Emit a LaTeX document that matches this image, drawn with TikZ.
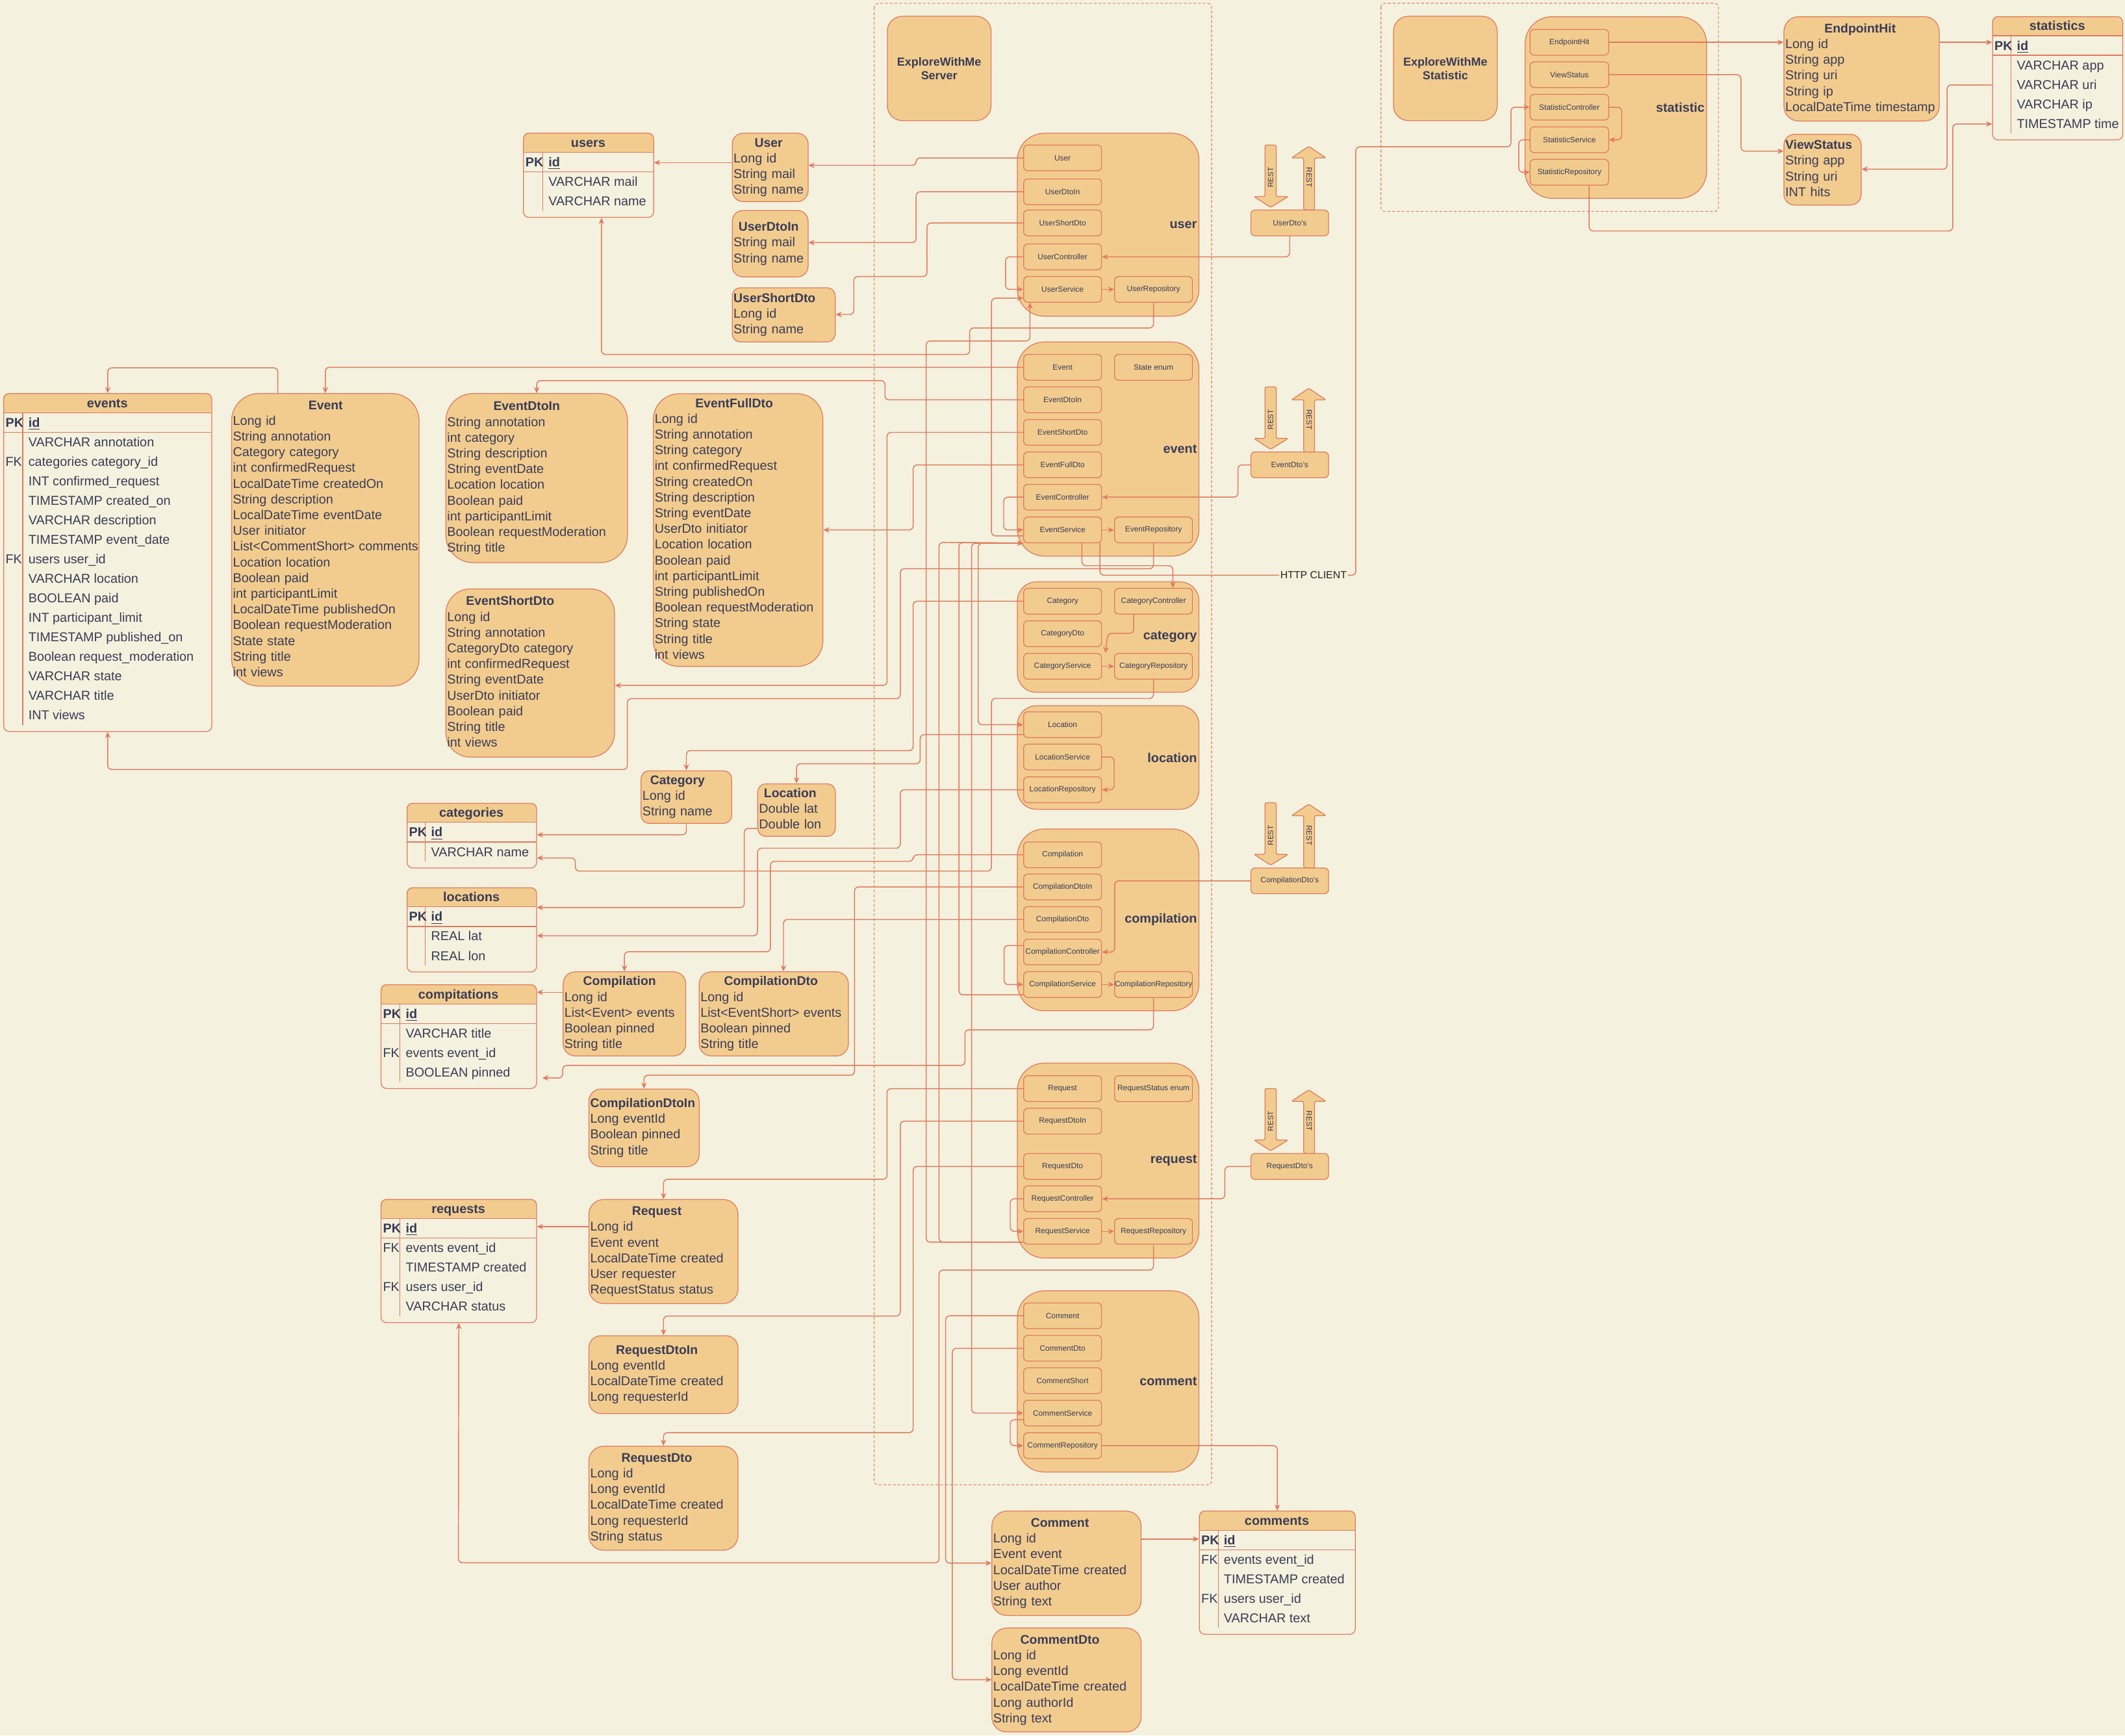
\documentclass[tikz,border=0pt]{standalone}
\usepackage{fontspec}
\setmainfont{Liberation Sans}
\usetikzlibrary{arrows.meta}

\definecolor{bgc}{HTML}{F4F1DE}
\definecolor{fillc}{HTML}{F2CC8F}
\definecolor{edgec}{HTML}{E07A5F}
\definecolor{txtc}{HTML}{393C56}

\newcommand{\fbody}{\fontsize{9.5}{11.6}\selectfont}
\newcommand{\fhead}{\fontsize{9.3}{11.6}\selectfont\bfseries}
\newcommand{\fcell}{\fontsize{9.5}{11}\selectfont}
\newcommand{\fsmall}{\fontsize{5.7}{6.8}\selectfont}
\newcommand{\fblock}{\fontsize{9.5}{11}\selectfont\bfseries}
\newcommand{\frest}{\fontsize{5.6}{6.6}\selectfont}
\newcommand{\fapp}{\fontsize{8.6}{10.3}\selectfont\bfseries}
% title centred over the widest field line
\newcommand{\ent}[2]{\begin{tabular}{@{}l@{}}\multicolumn{1}{@{}c@{}}{\fhead #1}\\#2\end{tabular}}

\tikzstyle{entity} = [rectangle, draw=edgec, fill=fillc, line width=0.6pt, anchor=north west,
    align=left, inner xsep=1pt, inner ysep=2pt, font=\fbody, text=txtc]
\tikzstyle{cls} = [rectangle, draw=edgec, fill=fillc, line width=0.6pt, rounded corners=3pt,
    minimum width=57.5pt, minimum height=19pt, inner sep=0pt, font=\fsmall, text=txtc]
\tikzstyle{dto} = [cls, minimum width=57.3pt]
\tikzstyle{module} = [rectangle, draw=edgec, fill=fillc, line width=0.6pt, rounded corners=20pt,
    anchor=north west, minimum width=134pt, text width=131pt, inner xsep=1.5pt, align=right,
    font=\fblock, text=txtc]
\tikzstyle{app} = [rectangle, draw=edgec, fill=fillc, line width=0.6pt, rounded corners=11pt,
    minimum width=76.5pt, minimum height=77pt, align=center, font=\fapp, text=txtc]
\tikzstyle{dbframe} = [rectangle, draw=edgec, line width=0.6pt, rounded corners=4pt,
    inner sep=0pt, anchor=north west]
\tikzstyle{dbtitle} = [anchor=base, inner sep=0pt, font=\fcell\bfseries, text=txtc]
\tikzstyle{dbcell} = [anchor=base west, inner sep=0.5pt, font=\fcell, text=txtc]
\tikzstyle{dbline} = [draw=edgec, line width=0.6pt]
\tikzstyle{zone} = [draw=edgec, line width=0.5pt, dash pattern=on 2pt off 1.5pt, rounded corners=3pt]
\tikzstyle{arrowshape} = [draw=edgec, fill=fillc, line width=0.6pt, rounded corners=1.2pt]
\tikzstyle{rest} = [inner sep=0pt, font=\frest, text=txtc]
\tikzstyle{con} = [draw=edgec, line width=0.7pt, rounded corners=3pt, -{Stealth[length=4.5pt,width=4pt]}]

% table: name, x1, y1, x2, divider, rows, title
\newcommand{\dbtable}[7]{%
  \fill[fillc, rounded corners=4pt] (#2,#3) rectangle (#4,#3+14.4);
  \fill[fillc] (#2,#3+7) rectangle (#4,#3+14.4);
  \node[dbframe, minimum width=#4-#2, minimum height=33.3+14.4*#6] (#1) at (#2,#3) {};
  \node[dbtitle] (#1-title) at ({(#2+#4)/2},#3+10.5) {#7};
  \draw[dbline] (#2,#3+14.4) -- (#4,#3+14.4) (#2,#3+28.8) -- (#4,#3+28.8)
    (#5,#3+14.4) -- (#5,#3+28.8+14.4*#6);
  \node[dbcell] (#1-pk) at (#2+1,#3+25) {\bfseries PK};
  \node[dbcell] (#1-id) at (#5+3.5,#3+25) {\bfseries\underline{id}};
}
% table rows: name, x1, y1, divider, key/text list
\newcommand{\dbrows}[5]{%
  \foreach \k/\t [count=\i] in {#5} {
    \node[dbcell] (#1-k\i) at (#2+1,#3+25+14.4*\i) {\k};
    \node[dbcell] (#1-r\i) at (#4+3.5,#3+25+14.4*\i) {\t};
  }
}
% REST arrows above a dto box: name, top of the box
\newcommand{\restpair}[2]{%
  \filldraw[arrowshape] (933.4,#2-48) -- (941.7,#2-48) -- (941.7,#2-10) -- (950.5,#2-10)
    -- (937.55,#2-2) -- (925.3,#2-10) -- (933.4,#2-10) -- cycle;
  \filldraw[arrowshape] (962,#2) -- (962,#2-38.5) -- (953,#2-38.5) -- (965.7,#2-47)
    -- (978.4,#2-38.5) -- (970,#2-38.5) -- (970,#2) -- cycle;
  \node[rest, rotate=90] (#1-in) at (937.55,#2-24) {REST};
  \node[rest, rotate=-90] (#1-out) at (966,#2-24) {REST};
}

\begin{document}
\begin{tikzpicture}[x=1pt, y=-1pt]
    \fill[bgc] (0,0) rectangle (1568,1280.4);
    \useasboundingbox (0,0) rectangle (1568,1280.4);
    \draw[zone] (645,2.5) rectangle (894,1095.5);
    \draw[zone] (1019,2.4) rectangle (1268,156);
    % Place nodes
    \node[app] (server) at (693,50.5) {ExploreWithMe\\Server};
    \node[app] (stats) at (1066.5,50.5) {ExploreWithMe\\Statistic};

    \node[module, minimum height=135pt] (buser) at (750.4,98) {user};
    \node[module, minimum height=158pt] (bevent) at (750.4,252) {event};
    \node[module, minimum height=81.5pt, rounded corners=14pt] (bcat) at (750.4,429) {category};
    \node[module, minimum height=76.4pt, rounded corners=14pt] (bloc) at (750.4,520.4) {location};
    \node[module, minimum height=134.2pt] (bcomp) at (750.4,611.3) {compilation};
    \node[module, minimum height=143.8pt] (breq) at (750.4,784.1) {request};
    \node[module, minimum height=133.7pt] (bcom) at (750.4,952.1) {comment};
    \node[module, minimum height=134pt] (bstat) at (1125,12) {statistic};

    \node[cls] (iuser) at (784.05,116.5) {User};
    \node[cls] (iuserin) at (784.05,141.5) {UserDtoIn};
    \node[cls] (iusershort) at (784.05,164.5) {UserShortDto};
    \node[cls] (uctrl) at (784.05,189.5) {UserController};
    \node[cls] (usrv) at (784.05,213.5) {UserService};
    \node[cls] (urepo) at (851.15,213.5) {UserRepository};

    \node[cls] (ievent) at (784.05,271) {Event};
    \node[cls] (state) at (851.15,271) {State enum};
    \node[cls] (ieventin) at (784.05,295) {EventDtoIn};
    \node[cls] (ieventshort) at (784.05,319) {EventShortDto};
    \node[cls] (ieventfull) at (784.05,343) {EventFullDto};
    \node[cls] (ectrl) at (784.05,366.8) {EventController};
    \node[cls] (esrv) at (784.05,391) {EventService};
    \node[cls] (erepo) at (851.15,391) {EventRepository};

    \node[cls] (icat) at (784.05,443.6) {Category};
    \node[cls] (cctrl) at (851.15,443.6) {CategoryController};
    \node[cls] (icatdto) at (784.05,467.6) {CategoryDto};
    \node[cls] (csrv) at (784.05,491.6) {CategoryService};
    \node[cls] (crepo) at (851.15,491.6) {CategoryRepository};

    \node[cls] (iloc) at (784.05,534.7) {Location};
    \node[cls] (lsrv) at (784.05,558.5) {LocationService};
    \node[cls] (lrepo) at (784.05,582.7) {LocationRepository};

    \node[cls] (icomp) at (784.05,630.7) {Compilation};
    \node[cls] (icompin) at (784.05,654.4) {CompilationDtoIn};
    \node[cls] (icompdto) at (784.05,678.4) {CompilationDto};
    \node[cls] (pctrl) at (784.05,702.4) {CompilationController};
    \node[cls] (psrv) at (784.05,726.4) {CompilationService};
    \node[cls] (prepo) at (851.15,726.4) {CompilationRepository};

    \node[cls] (ireq) at (784.05,803.2) {Request};
    \node[cls] (reqstatus) at (851.15,803.2) {RequestStatus enum};
    \node[cls] (ireqin) at (784.05,827.2) {RequestDtoIn};
    \node[cls] (ireqdto) at (784.05,860.6) {RequestDto};
    \node[cls] (rctrl) at (784.05,884.5) {RequestController};
    \node[cls] (rsrv) at (784.05,908.5) {RequestService};
    \node[cls] (rrepo) at (851.15,908.5) {RequestRepository};

    \node[cls] (icom) at (784.05,970.8) {Comment};
    \node[cls] (icomdto) at (784.05,994.8) {CommentDto};
    \node[cls] (icomshort) at (784.05,1018.7) {CommentShort};
    \node[cls] (msrv) at (784.05,1042.6) {CommentService};
    \node[cls] (mrepo) at (784.05,1066.6) {CommentRepository};

    \node[cls, minimum width=58pt] (ihit) at (1158,31.2) {EndpointHit};
    \node[cls, minimum width=58pt] (iview) at (1158,55.1) {ViewStatus};
    \node[cls, minimum width=58pt] (sctrl) at (1158,79.1) {StatisticController};
    \node[cls, minimum width=58pt] (ssrv) at (1158,103.1) {StatisticService};
    \node[cls, minimum width=58pt] (srepo) at (1158,127.1) {StatisticRepository};

    \restpair{urest}{155}
    \restpair{erest}{333.5}
    \restpair{prest}{640.3}
    \restpair{rrest}{851.1}
    \node[dto] (userdtos) at (951.65,164.5) {UserDto's};
    \node[dto] (eventdtos) at (951.65,343) {EventDto's};
    \node[dto] (compdtos) at (951.65,649.9) {CompilationDto's};
    \node[dto] (reqdtos) at (951.65,860.6) {RequestDto's};

    \node[entity, text width=54pt, minimum height=48pt, rounded corners=8pt] (user) at (540,98)
        {\ent{User}{Long id\\String mail\\String name}};
    \node[entity, text width=54pt, minimum height=49pt, rounded corners=8pt] (userin) at (540,155)
        {\ent{UserDtoIn}{String mail\\String name}};
    \node[entity, text width=74pt, minimum height=40pt, rounded corners=6pt] (usershort) at (540,212)
        {\ent{UserShortDto}{Long id\\String name}};
    \node[entity, text width=136.3pt, minimum height=215.8pt, rounded corners=20pt] (event) at (170.6,290.1)
        {\ent{Event}{Long id\\String annotation\\Category category\\int confirmedRequest\\LocalDateTime createdOn\\String description\\LocalDateTime eventDate\\User initiator\\List<CommentShort> comments\\Location location\\Boolean paid\\int participantLimit\\LocalDateTime publishedOn\\Boolean requestModeration\\State state\\String title\\int views}};
    \node[entity, text width=132pt, minimum height=124.7pt, rounded corners=20pt] (eventin) at (328.7,290.1)
        {\ent{EventDtoIn}{String annotation\\int category\\String description\\String eventDate\\Location location\\Boolean paid\\int participantLimit\\Boolean requestModeration\\String title}};
    \node[entity, text width=122.5pt, minimum height=124.1pt, rounded corners=18pt] (eventshort) at (328.7,434.2)
        {\ent{EventShortDto}{Long id\\String annotation\\CategoryDto category\\int confirmedRequest\\String eventDate\\UserDto initiator\\Boolean paid\\String title\\int views}};
    \node[entity, text width=123.1pt, minimum height=201.2pt, rounded corners=19pt] (eventfull) at (481.8,290.2)
        {\ent{EventFullDto}{Long id\\String annotation\\String category\\int confirmedRequest\\String createdOn\\String description\\String eventDate\\UserDto initiator\\Location location\\Boolean paid\\int participantLimit\\String publishedOn\\Boolean requestModeration\\String state\\String title\\int views}};
    \node[entity, text width=64.9pt, minimum height=38.1pt, rounded corners=6pt] (category) at (472.7,568.4)
        {\ent{Category}{Long id\\String name}};
    \node[entity, text width=55.3pt, minimum height=38pt, rounded corners=6pt] (location) at (558.8,578)
        {\ent{Location}{Double lat\\Double lon}};
    \node[entity, text width=88.5pt, minimum height=62.1pt, rounded corners=9pt] (comp) at (415.2,716.7)
        {\ent{Compilation}{Long id\\List<Event> events\\Boolean pinned\\String title}};
    \node[entity, text width=108.1pt, minimum height=62.1pt, rounded corners=9pt] (compdto) at (515.6,716.7)
        {\ent{CompilationDto}{Long id\\List<EventShort> events\\Boolean pinned\\String title}};
    \node[entity, text width=79.4pt, minimum height=57.3pt, rounded corners=9pt] (compin) at (434.2,803.2)
        {\ent{CompilationDtoIn}{Long eventId\\Boolean pinned\\String title}};
    \node[entity, text width=108.1pt, minimum height=76.8pt, rounded corners=11pt] (request) at (434.2,884.7)
        {\ent{Request}{Long id\\Event event\\LocalDateTime created\\User requester\\RequestStatus status}};
    \node[entity, text width=108.1pt, minimum height=57.4pt, rounded corners=9pt] (requestin) at (434.2,985.2)
        {\ent{RequestDtoIn}{Long eventId\\LocalDateTime created\\Long requesterId}};
    \node[entity, text width=108.1pt, minimum height=76.8pt, rounded corners=11pt] (requestdto) at (434.2,1066.7)
        {\ent{RequestDto}{Long id\\Long eventId\\LocalDateTime created\\Long requesterId\\String status}};
    \node[entity, text width=108.1pt, minimum height=77pt, rounded corners=11pt] (comment) at (731.6,1114.6)
        {\ent{Comment}{Long id\\Event event\\LocalDateTime created\\User author\\String text}};
    \node[entity, text width=108.1pt, minimum height=76.7pt, rounded corners=11pt] (commentdto) at (731.6,1200.9)
        {\ent{CommentDto}{Long id\\Long eventId\\LocalDateTime created\\Long authorId\\String text}};
    \node[entity, text width=112.6pt, minimum height=77pt, rounded corners=11pt] (hit) at (1316,12)
        {\ent{EndpointHit}{Long id\\String app\\String uri\\String ip\\LocalDateTime timestamp}};
    \node[entity, text width=55pt, minimum height=52.2pt, rounded corners=8pt] (viewstat) at (1316,98.8)
        {\ent{ViewStatus}{String app\\String uri\\INT hits}};

    % Tables
    \dbtable{usersdb}{386}{98}{482}{400.5}{2}{users}
    \dbrows{usersdb}{386}{98}{400.5}{/VARCHAR mail, /VARCHAR name}
    \dbtable{eventsdb}{2.4}{290.1}{156}{16.8}{15}{events}
    \dbrows{eventsdb}{2.4}{290.1}{16.8}{/VARCHAR annotation, FK/categories category\_id, /INT confirmed\_request, /TIMESTAMP created\_on, /VARCHAR description, /TIMESTAMP event\_date, FK/users user\_id, /VARCHAR location, /BOOLEAN paid, /INT participant\_limit, /TIMESTAMP published\_on, /Boolean request\_moderation, /VARCHAR state, /VARCHAR title, /INT views}
    \dbtable{categoriesdb}{300.1}{592.4}{395.6}{313.9}{1}{categories}
    \dbrows{categoriesdb}{300.1}{592.4}{313.9}{/VARCHAR name}
    \dbtable{locationsdb}{300.1}{654.7}{395.6}{313.9}{2}{locations}
    \dbrows{locationsdb}{300.1}{654.7}{313.9}{/REAL lat, /REAL lon}
    \dbtable{compdb}{280.9}{726.3}{395.6}{295.2}{3}{compitations}
    \dbrows{compdb}{280.9}{726.3}{295.2}{/VARCHAR title, FK/events event\_id, /BOOLEAN pinned}
    \dbtable{requestsdb}{280.9}{884.7}{395.6}{295.2}{4}{requests}
    \dbrows{requestsdb}{280.9}{884.7}{295.2}{FK/events event\_id, /TIMESTAMP created, FK/users user\_id, /VARCHAR status}
    \dbtable{commentsdb}{884.7}{1114.6}{999.7}{898.9}{4}{comments}
    \dbrows{commentsdb}{884.7}{1114.6}{898.9}{FK/events event\_id, /TIMESTAMP created, FK/users user\_id, /VARCHAR text}
    \dbtable{statsdb}{1470}{12}{1566}{1484}{4}{statistics}
    \dbrows{statsdb}{1470}{12}{1484}{/VARCHAR app, /VARCHAR uri, /VARCHAR ip, /TIMESTAMP time}

    \node[fill=bgc, inner sep=0.6pt, font=\fontsize{7.6}{9}\selectfont, text=black!85] (http) at (969.2,424.4) {HTTP CLIENT};

    % Draw edges
    % user
    \draw[con] (iuser.west) -| (676,122) -- (user.east |- 0,122);
    \draw[con] (iuserin.west) -| (676,179) -- (userin.east |- 0,179);
    \draw[con] (iusershort.west) -| (684,204) -| (630,232) -- (usershort.east |- 0,232);
    \draw[con] (user.west |- 0,120) -- (usersdb.east |- 0,120);
    \draw[con] (userdtos.south) |- (uctrl.east);
    \draw[con] (uctrl.west) -- ++(-13,0) |- (usrv.west);
    \draw[con] (usrv) -- (urepo);
    \draw[con] (urepo.south) |- (715.5,242) |- (443.8,261.5) -- (usersdb.south -| 443.8,0);
    % statistic
    \draw[con] (ihit) -- (hit.west |- ihit);
    \draw[con] (iview.east) -| (1284.6,111.5) -- (viewstat.west |- 0,111.5);
    \draw[con] (hit.east |- ihit) -- (statsdb.west |- ihit);
    \draw[con] (statsdb.west |- 0,62.7) -| (1436.7,124.8) -- (viewstat.east |- 0,124.8);
    \draw[con] (srepo.south -| 1172.6,0) |- (1440.9,170.4) |- (statsdb.west |- 0,91.5);
    \draw[con] (sctrl.east) -| (1196.6,103.1) -- (ssrv.east);
    \draw[con] (ssrv.west) -| (1120.7,127.1) -- (srepo.west);
    \draw[con, -] ([xshift=-1.5pt]esrv.south east) |- (http.west);
    \draw[con] (http.east) -| (1000.4,108.3) -| (1114.9,79.1) -- (sctrl.west);
    % event
    \draw[con] (ievent.west) -| (event.north);
    \draw[con] (event.north -| 205,0) |- (79.5,271.4) -- (eventsdb.north -| 79.5,0);
    \draw[con] (ieventin.west) -| (653,280.8) -| (eventin.north);
    \draw[con] (ieventshort.west) -| (654.5,505.7) -- (eventshort.east |- 0,505.7);
    \draw[con] (ieventfull.west) -| (673.8,391) -- (eventfull.east |- 0,391);
    \draw[con] (eventdtos.west) -| (913.5,366.8) -- (ectrl.east);
    \draw[con] (ectrl.west) -- ++(-14.4,0) |- (esrv.west);
    \draw[con] (esrv) -- (erepo);
    \draw[con] (erepo.south) |- (664.3,419.6) |- (462.9,515.5) |- (79.5,567.7) -- (eventsdb.south -| 79.5,0);
    \draw[con] ([xshift=14.3pt]esrv.south) |- (865.4,417.4) -- (cctrl.north -| 865.4,0);
    \draw[con] (esrv.west |- 0,395.4) -| (731.6,220) -- (usrv.west |- 0,220);
    \draw[con] (rsrv.west |- 0,916.5) -| (683.4,251.6) -| ([xshift=5pt]usrv.south west);
    \draw[con] (rsrv.west |- 0,916.5) -| (692.9,400.2) -- (esrv.south west);
    \draw[con] (psrv.west |- 0,734) -| (707.6,400.2) -- (esrv.south west);
    \draw[con] (esrv.south west) -| (716.9,1042.6) -- (msrv.west);
    \draw[con] (esrv.south west) -| (721.8,534.7) -- (iloc.west);
    % category
    \draw[con] (icat.west) -| (673.8,553.8) -| (category.north);
    \draw[con] (cctrl.south -| 836.5,0) |- (817.5,467.3) -- ([xshift=2.5pt]csrv.north east);
    \draw[con] (csrv) -- (crepo);
    \draw[con] (crepo.south) |- (731.6,515.3) |- (424.5,642.7) |- (categoriesdb.east |- 0,633);
    \draw[con] (category.south) |- (categoriesdb.east |- 0,615.9);
    % location
    \draw[con] (iloc.west |- 0,542) -| (679,563.5) -| (location.north);
    \draw[con] (lsrv.east) -| (822.1,582.7) -- (lrepo.east);
    \draw[con] (lrepo.west) -| (664.3,625.8) -| (559,690.4) -- (locationsdb.east |- 0,690.4);
    \draw[con] (location.west |- 0,611.2) -| (549.2,669.6) -- (locationsdb.east |- 0,669.6);
    % compilation
    \draw[con] (icomp.west) -| (673.8,635.5) -| (568.5,702.2) -| (comp.north);
    \draw[con] (icompin.west) -| (630.5,793.3) -| (compin.north);
    \draw[con] (icompdto.west) -| (compdto.north -| 578.1,0);
    \draw[con] (compdtos.west) -| (822.5,702.4) -- (pctrl.east);
    \draw[con] (pctrl.west |- 0,697.6) -| (740.9,726.4) -- (psrv.west);
    \draw[con] (psrv) -- (prepo);
    \draw[con] (prepo.south) |- (712,759.8) |- (415.2,786.1) |- ([xshift=4pt]compdb.east |- 0,795.3);
    \draw[con] (comp.west |- 0,732.1) -- (compdb.east |- 0,732.1);
    % request
    \draw[con] (ireq.west) -| (654.5,870.1) -| (request.north);
    \draw[con] (ireqin.west) -| (664.3,971) -| (requestin.north);
    \draw[con] (ireqdto.west) -| (673.8,1057) -| (requestdto.north);
    \draw[con] (reqdtos.west) -| (903.8,884.5) -- (rctrl.east);
    \draw[con] (rctrl.west) -- ++(-9.6,0) |- (rsrv.west);
    \draw[con] (rsrv) -- (rrepo);
    \draw[con] (rrepo.south) |- (692.9,937.1) |- (338.25,1153) -- (requestsdb.south);
    \draw[con] (request.west |- 0,905) -- (requestsdb.east |- 0,905);
    % comment
    \draw[con] (icom.west) -| (697.8,1153.3) -- (comment.west |- 0,1153.3);
    \draw[con] (icomdto.west) -| (702.7,1239.3) -- (commentdto.west |- 0,1239.3);
    \draw[con] (msrv.west |- 0,1047.5) -- ++(-9.6,0) |- (mrepo.west);
    \draw[con] (mrepo.east) -| (commentsdb.north);
    \draw[con] (comment.east |- 0,1135.5) -- (commentsdb.west |- 0,1135.5);
\end{tikzpicture}
\end{document}
